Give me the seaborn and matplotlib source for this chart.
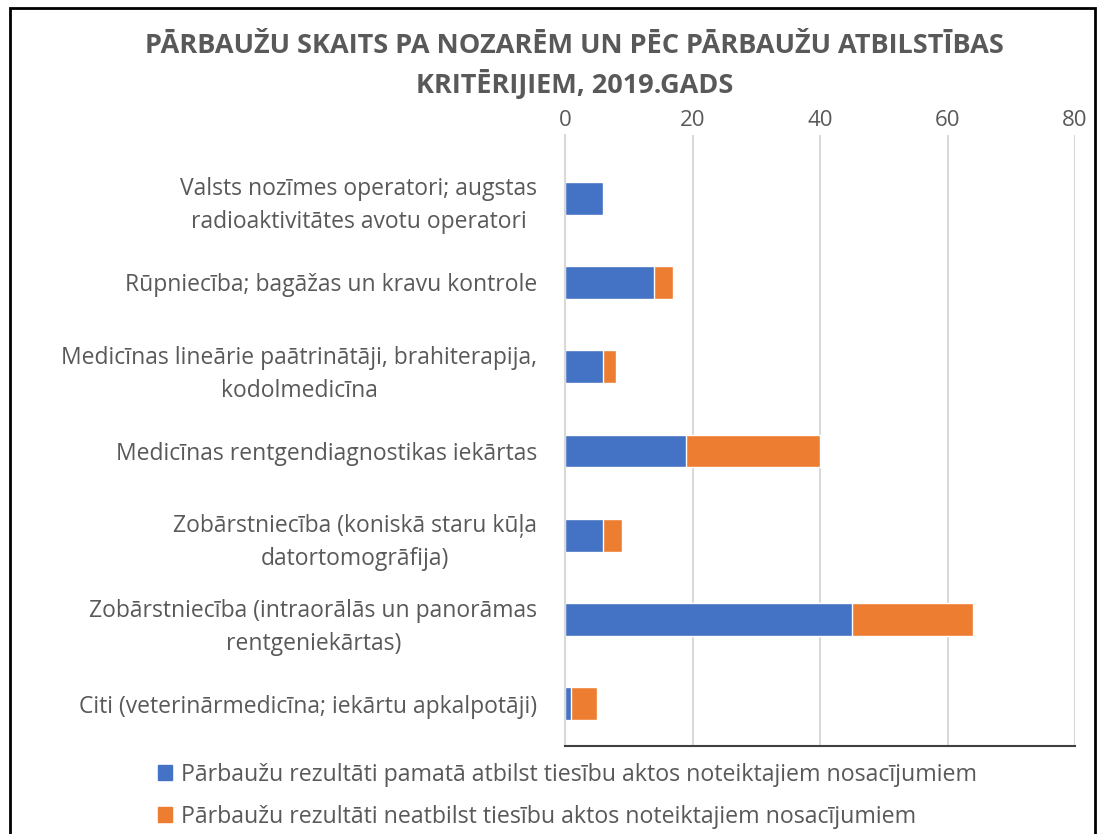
"""Pārbaužu skaits pa nozarēm, 2019 - stacked horizontal bars."""

import matplotlib.pyplot as plt
import seaborn as sns
import pandas as pd
from matplotlib.patches import Patch

categories = [
    "Valsts nozīmes operatori; augstas\nradioaktivitātes avotu operatori",
    "Rūpniecība; bagāžas un kravu kontrole",
    "Medicīnas lineārie paātrinātāji, brahiterapija,\nkodolmedicīna",
    "Medicīnas rentgendiagnostikas iekārtas",
    "Zobārstniecība (koniskā staru kūļa\ndatortomogrāfija)",
    "Zobārstniecība (intraorālās un panorāmas\nrentgeniekārtas)",
    "Citi (veterinārmedicīna; iekārtu apkalpotāji)",
]
atbilst = [6, 14, 6, 19, 6, 45, 1]
neatbilst = [0, 3, 2, 21, 3, 19, 4]
series_names = [
    "Pārbaužu rezultāti pamatā atbilst tiesību aktos noteiktajiem nosacījumiem",
    "Pārbaužu rezultāti neatbilst tiesību aktos noteiktajiem nosacījumiem",
]
x_ticks = [0, 20, 40, 60, 80]

BLUE = "#4472C4"
ORANGE = "#ED7D31"
GREY = "#595959"

df = pd.DataFrame({"kategorija": categories, "atbilst": atbilst, "neatbilst": neatbilst})
df["kopa"] = df["atbilst"] + df["neatbilst"]

sns.set_style("white")
plt.rcParams["font.family"] = ["Open Sans", "DejaVu Sans"]

fig = plt.figure(figsize=(11.05, 8.34), dpi=100)
ax = fig.add_axes([565 / 1105, 1 - 746 / 834, 510 / 1105, 611 / 834])

# orange = total, blue drawn over it -> stacked look
sns.barplot(data=df, x="kopa", y="kategorija", color=ORANGE, width=0.39,
            saturation=1, ax=ax)
sns.barplot(data=df, x="atbilst", y="kategorija", color=BLUE, width=0.39,
            saturation=1, ax=ax)

ax.set_xlim(0, 80)
ax.set_ylim(6.5, -0.75)
ax.set_xticks(x_ticks)
ax.xaxis.tick_top()
ax.tick_params(axis="x", length=0, labelsize=16, labelcolor=GREY, pad=3)
ax.tick_params(axis="y", length=0, labelsize=16.5, labelcolor=GREY, pad=20)
for lbl in ax.get_yticklabels():
    lbl.set_multialignment("center")
    lbl.set_linespacing(1.5)
ax.set_xlabel("")
ax.set_ylabel("")
ax.grid(axis="x", color="#D9D9D9", linewidth=1.5)
ax.set_axisbelow(True)
for side in ["top", "right"]:
    ax.spines[side].set_visible(False)
ax.spines["left"].set_color("#D9D9D9")
ax.spines["left"].set_linewidth(1.5)
ax.spines["bottom"].set_color("#404040")
ax.spines["bottom"].set_linewidth(1.5)

fig.text(0.52, 1 - 66 / 834,
         "PĀRBAUŽU SKAITS PA NOZARĒM UN PĒC PĀRBAUŽU ATBILSTĪBAS\nKRITĒRIJIEM, 2019.GADS",
         ha="center", va="center", fontsize=19.5, fontweight="bold", color=GREY,
         linespacing=1.42)

handles = [Patch(color=BLUE), Patch(color=ORANGE)]
fig.legend(handles, series_names, loc="upper left", bbox_to_anchor=(137 / 1105, 1 - 742 / 834),
           frameon=False, fontsize=16.7, labelcolor=GREY, handlelength=0.6, handleheight=0.6,
           handletextpad=0.4, labelspacing=0.78)

fig.patches.append(plt.Rectangle((0.009, -0.01), 0.982, 1.0, transform=fig.transFigure,
                                 fill=False, edgecolor="black", linewidth=2))

plt.savefig("out.png", dpi=100)
plt.close()
